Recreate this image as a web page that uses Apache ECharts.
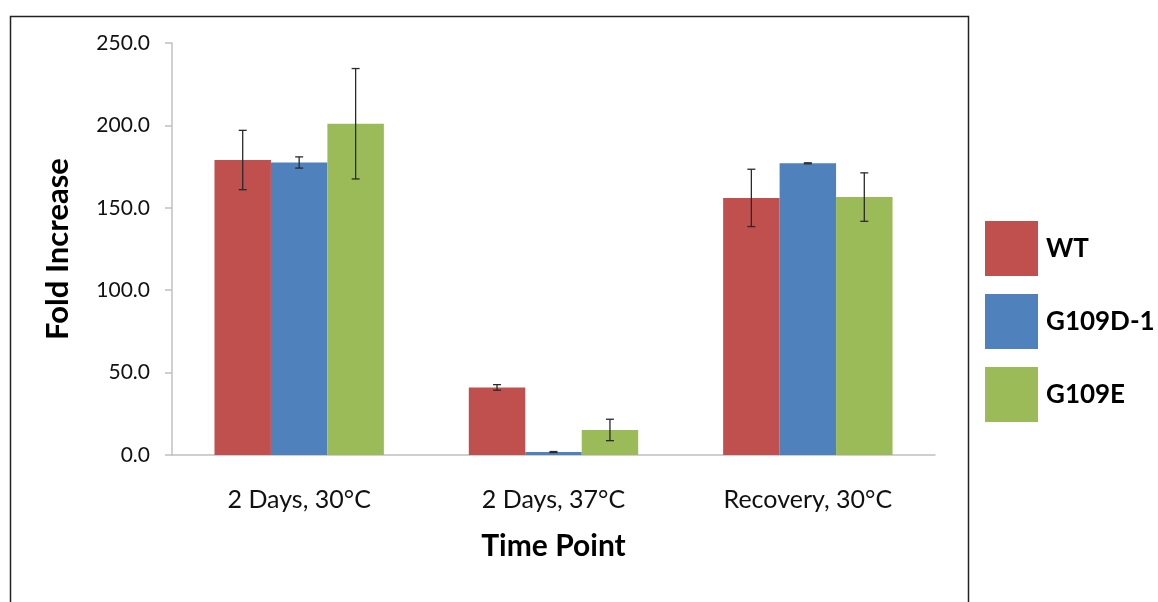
<!DOCTYPE html>
<html><head><meta charset="utf-8">
<script src="https://cdn.jsdelivr.net/npm/echarts@6/dist/echarts.min.js"></script>
<style>html,body{margin:0;padding:0;background:#fff}#c{width:1158px;height:602px}</style>
</head><body><div id="c"></div>
<script>
const categories = ['2 Days, 30°C', '2 Days, 37°C', 'Recovery, 30°C'];
const seriesNames = ['WT', 'G109D-1', 'G109E'];
const wtValues = [179, 41, 156];
const g109d1Values = [177.5, 1.8, 177];
const g109eValues = [201, 15.2, 156.5];
const wtErr = [18, 1.7, 17.4];
const g109d1Err = [3.4, 0.3, 0.3];
const g109eErr = [33.5, 6.5, 14.7];
const yTicks = [0, 50, 100, 150, 200, 250];
const colors = ['#c0504d', '#4f81bd', '#9bbb59'];

const values = [wtValues, g109d1Values, g109eValues];
const errs = [wtErr, g109d1Err, g109eErr];
const GAP = 0.334;
const FONT = 'Lato, "Open Sans", sans-serif';

const chart = echarts.init(document.getElementById('c'));
const series = [];
seriesNames.forEach((n, i) => {
  series.push({
    name: n, type: 'bar', data: values[i],
    itemStyle: { color: colors[i] },
    barGap: '0%', barCategoryGap: (GAP * 100) + '%'
  });
});
seriesNames.forEach((n, i) => {
  series.push({
    type: 'custom', name: n + ' err', silent: true, z: 5,
    data: values[i].map((v, j) => [j, v - errs[i][j], v + errs[i][j]]),
    renderItem: function (params, api) {
      const x = api.value(0);
      const lo = api.coord([x, api.value(1)]);
      const hi = api.coord([x, api.value(2)]);
      const band = api.size([1, 0])[0];
      const bw = band * (1 - GAP) / 3;
      const cx = lo[0] + (i - 1) * bw;
      const cap = 4;
      const style = { stroke: '#2a2a2a', lineWidth: 1.3 };
      return { type: 'group', children: [
        { type: 'line', shape: { x1: cx, y1: lo[1], x2: cx, y2: hi[1] }, style },
        { type: 'line', shape: { x1: cx - cap, y1: lo[1], x2: cx + cap, y2: lo[1] }, style },
        { type: 'line', shape: { x1: cx - cap, y1: hi[1], x2: cx + cap, y2: hi[1] }, style }
      ]};
    }
  });
});

chart.setOption({
  animation: false,
  textStyle: { fontFamily: FONT },
  grid: { left: 172, right: 223, top: 43, bottom: 147 },
  legend: {
    data: seriesNames, orient: 'vertical', left: 985, top: 221, padding: 0,
    itemWidth: 53, itemHeight: 55, itemGap: 18, icon: 'rect',
    textStyle: { fontSize: 26, fontWeight: 'bold', color: '#000', fontFamily: FONT, padding: [0, 0, 0, 3] }
  },
  xAxis: {
    type: 'category', data: categories,
    name: 'Time Point', nameLocation: 'middle', nameGap: 76,
    nameTextStyle: { fontSize: 30, fontWeight: 'bold', color: '#000', fontFamily: FONT },
    axisLine: { lineStyle: { color: '#c0c0c0', width: 1.5 } },
    axisTick: { length: 11, lineStyle: { color: '#c0c0c0', width: 1.5 } },
    axisLabel: { fontSize: 25, color: '#111', margin: 32, fontFamily: FONT }
  },
  yAxis: {
    type: 'value', min: 0, max: 250, interval: 50,
    name: 'Fold Increase', nameLocation: 'middle', nameGap: 99,
    nameTextStyle: { fontSize: 31, fontWeight: 'bold', color: '#000', fontFamily: FONT },
    axisLine: { show: true, lineStyle: { color: '#c0c0c0', width: 1.5 } },
    axisTick: { show: true, length: 7, lineStyle: { color: '#c0c0c0', width: 1.5 } },
    splitLine: { show: false },
    axisLabel: { fontSize: 21, color: '#111', margin: 22, fontFamily: FONT,
      formatter: v => yTicks.includes(v) ? v.toFixed(1) : '' }
  },
  graphic: [{
    type: 'rect', left: 8, top: 14, silent: true, z: 100,
    shape: { width: 958, height: 600 },
    style: { fill: 'none', stroke: '#222', lineWidth: 1.5 }
  }],
  series
});
</script></body></html>
